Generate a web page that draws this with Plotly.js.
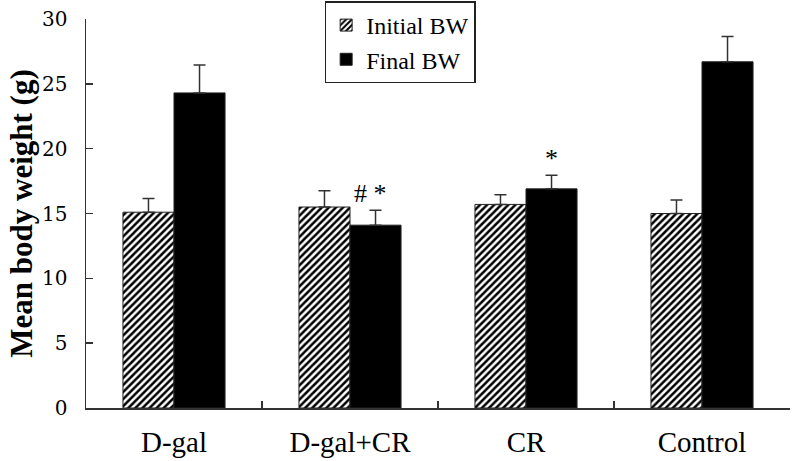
<!DOCTYPE html>
<html>
<head>
<meta charset="utf-8">
<script src="https://cdn.plot.ly/plotly-3.0.1.min.js"></script>
<style>html,body{margin:0;padding:0;background:#fff}#chart{width:792px;height:461px}</style>
</head>
<body>
<div id="chart"></div>
<script>
var groups = ["D-gal", "D-gal+CR", "CR", "Control"];
var initialBW = [15.1, 15.5, 15.7, 15.0];
var initialErr = [1.05, 1.25, 0.75, 1.05];
var finalBW = [24.3, 14.1, 16.9, 26.7];
var finalErr = [2.15, 1.15, 1.05, 1.95];
var marks = ["", "# *", "*", ""];

var serif = "Liberation Serif, Times New Roman, serif";

var traces = [
  {
    type: "bar", name: "Initial BW", x: groups, y: initialBW,
    marker: {color: "white", line: {color: "#222", width: 1},
             pattern: {shape: "/", fgcolor: "black", bgcolor: "white", size: 5, solidity: 0.5}},
    error_y: {type: "data", symmetric: false, array: initialErr, arrayminus: initialErr.map(function(){return 0;}),
              color: "#333", thickness: 1.5, width: 6}
  },
  {
    type: "bar", name: "Final BW", x: groups, y: finalBW,
    marker: {color: "black", line: {color: "#222", width: 1}},
    error_y: {type: "data", symmetric: false, array: finalErr, arrayminus: finalErr.map(function(){return 0;}),
              color: "#333", thickness: 1.5, width: 6}
  }
];

var annotations = [];
for (var i = 0; i < groups.length; i++) {
  if (marks[i]) {
    annotations.push({
      x: groups[i], y: finalBW[i] + finalErr[i], xref: "x", yref: "y",
      text: marks[i], showarrow: false, xanchor: "center", yanchor: "bottom",
      xshift: marks[i].length > 1 ? 20 : 25, yshift: 0,
      font: {family: serif, size: 26, color: "#000"}
    });
  }
}

var layout = {
  width: 792, height: 461,
  margin: {l: 86, r: 2, t: 16, b: 53},
  paper_bgcolor: "white", plot_bgcolor: "white",
  barmode: "group", bargap: 0.42, bargroupgap: 0,
  showlegend: true,
  legend: {
    x: 0.339, y: 1.045, xanchor: "left", yanchor: "top",
    bordercolor: "#222", borderwidth: 1.5, bgcolor: "white",
    font: {family: serif, size: 24, color: "#000"},
    itemwidth: 30, tracegroupgap: 0, entrywidth: 150
  },
  xaxis: {
    type: "category", showline: true, linecolor: "#333", linewidth: 1.5,
    ticks: "inside", tickson: "boundaries", ticklen: 7, tickcolor: "#333", tickwidth: 1.5,
    tickfont: {family: serif, size: 29, color: "#000"},
    ticklabelstandoff: 8, showgrid: false, zeroline: false, fixedrange: true
  },
  yaxis: {
    range: [0, 30], dtick: 5, showline: true, linecolor: "#333", linewidth: 1.5,
    ticks: "inside", ticklen: 7, tickcolor: "#333", tickwidth: 1.5,
    tickfont: {family: "DejaVu Serif, serif", size: 20, color: "#000"},
    ticklabelstandoff: 13, showgrid: false, zeroline: false,
    title: {text: "<b>Mean body weight (g)</b>", font: {family: serif, size: 31, color: "#000"}, standoff: 0}
  },
  annotations: annotations
};

Plotly.newPlot("chart", traces, layout, {staticPlot: true, displayModeBar: false});
</script>
</body>
</html>
